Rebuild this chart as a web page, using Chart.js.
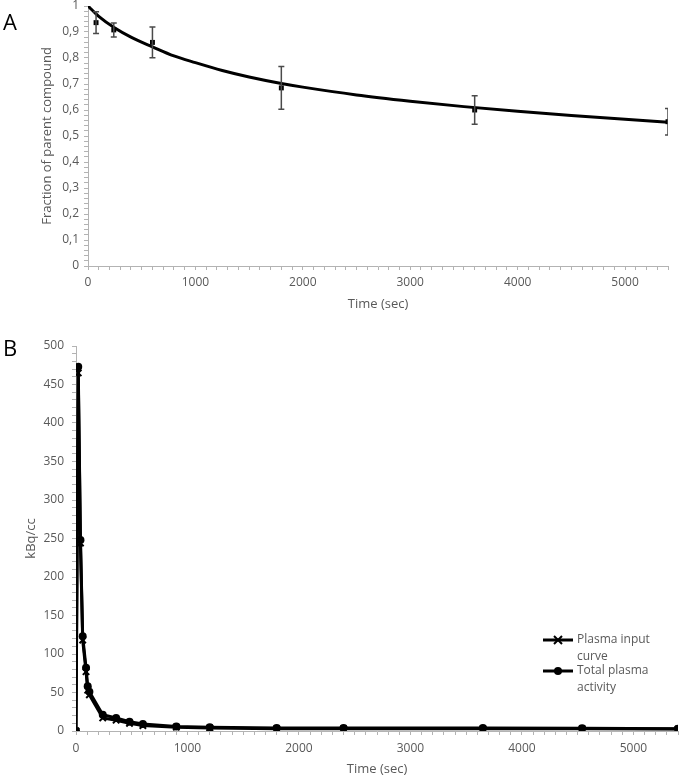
<!DOCTYPE html>
<html>
<head>
<meta charset="utf-8">
<script src="https://cdn.jsdelivr.net/npm/chart.js@4.4.1/dist/chart.umd.min.js"></script>
<style>
  body { margin: 0; background: #fff; }
  #wrap { position: relative; width: 685px; height: 780px; font-family: "Open Sans", sans-serif; }
  .panel { position: absolute; left: 0; }
  .letter { position: absolute; left: 3px; font-size: 22px; line-height: 22px; color: #000; }
</style>
</head>
<body>
<div id="wrap">
  <div class="panel" style="top:0"><canvas id="chartA" width="685" height="320"></canvas></div>
  <div class="panel" style="top:325px"><canvas id="chartB" width="685" height="455"></canvas></div>
  <div class="letter" style="top:10px">A</div>
  <div class="letter" style="top:336px">B</div>
</div>
<script>
// --- panel A: parent fraction ---
const fractionTimes = [75, 240, 600, 1800, 3600, 5400];
const fractionMean = [0.936, 0.908, 0.86, 0.685, 0.60, 0.555];
const fractionSd = [0.042, 0.027, 0.059, 0.082, 0.055, 0.051];

const fitTimes = [0, 100, 250, 400, 600, 800, 1000, 1250, 1500, 1800, 2000, 2500, 3000, 3500, 4000, 4500, 5000, 5400];
const fitFraction = [1.0, 0.96, 0.915, 0.88, 0.843, 0.808, 0.782, 0.752, 0.727, 0.702, 0.688, 0.658, 0.634, 0.613, 0.595, 0.579, 0.564, 0.553];

// --- panel B: plasma curves ---
const plasmaTimes = [0, 20, 40, 60, 90, 105, 120, 240, 360, 480, 600, 900, 1200, 1800, 2400, 3650, 4540, 5400];
const totalActivity = [0, 473, 248, 123, 82, 58, 51, 21, 17, 12, 9, 6, 5, 4, 4, 4, 3.5, 3];
const inputCurve = [0, 465, 244, 118, 77, 53, 47, 17, 14, 10, 7, 5, 4, 3, 3, 3, 3, 2.5];

const legendLabels = [['Plasma input', 'curve'], ['Total plasma', 'activity']];

const GREY = '#b3b3b3';
const TEXT = '#595959';
const FONT = '"Open Sans", sans-serif';

const toPoints = (xs, ys) => xs.map((x, i) => ({ x, y: ys[i] }));

// major + minor tick list, labels only on majors
const stepTicks = (count, step) => scale => {
  const t = [];
  for (let i = 0; i <= count; i++) t.push({ value: +(i * step).toFixed(4) });
  scale.ticks = t;
};

const axisBase = {
  grid: { drawOnChartArea: false, drawTicks: true, tickLength: 4, color: GREY, tickColor: GREY },
  border: { color: GREY, width: 1 },
};

const errorBars = {
  id: 'errorBars',
  afterDatasetsDraw(chart) {
    const { ctx, chartArea, scales: { x, y } } = chart;
    ctx.save();
    ctx.beginPath();
    ctx.rect(chartArea.left, chartArea.top - 10, chartArea.right - chartArea.left, chartArea.bottom - chartArea.top + 10);
    ctx.clip();
    ctx.strokeStyle = '#4a4a4a';
    ctx.lineWidth = 1.5;
    fractionTimes.forEach((t, i) => {
      const px = x.getPixelForValue(t);
      const hi = y.getPixelForValue(fractionMean[i] + fractionSd[i]);
      const lo = y.getPixelForValue(fractionMean[i] - fractionSd[i]);
      ctx.beginPath();
      ctx.moveTo(px, hi); ctx.lineTo(px, lo);
      ctx.moveTo(px - 3, hi); ctx.lineTo(px + 3, hi);
      ctx.moveTo(px - 3, lo); ctx.lineTo(px + 3, lo);
      ctx.stroke();
    });
    ctx.restore();
  }
};

new Chart(document.getElementById('chartA'), {
  type: 'scatter',
  data: {
    datasets: [
      {
        data: toPoints(fitTimes, fitFraction),
        showLine: true,
        borderColor: '#000',
        borderWidth: 3,
        pointRadius: 0,
        cubicInterpolationMode: 'monotone',
      },
      {
        data: toPoints(fractionTimes, fractionMean),
        pointStyle: 'rect',
        pointRadius: 3.5,
        backgroundColor: '#000',
        borderColor: '#000',
        borderWidth: 0,
        showLine: false,
      }
    ]
  },
  plugins: [errorBars],
  options: {
    responsive: false,
    animation: false,
    layout: { padding: { top: 6, right: 17, left: 0, bottom: 0 } },
    plugins: { legend: { display: false }, tooltip: { enabled: false } },
    scales: {
      x: {
        ...axisBase,
        type: 'linear', min: 0, max: 5400,
        afterBuildTicks: stepTicks(54, 100),
        afterFit: s => { s.height = 54; s.paddingLeft = 0; s.paddingRight = 0; },
        ticks: {
          autoSkip: false, maxRotation: 0, padding: 5, color: TEXT, font: { family: FONT, size: 12 },
          callback: v => (v % 1000 === 0 ? v : '')
        },
        title: { display: true, text: 'Time (sec)', color: TEXT, font: { family: FONT, size: 13 }, padding: { top: 0, bottom: 8 } }
      },
      y: {
        ...axisBase,
        min: 0, max: 1,
        afterBuildTicks: stepTicks(50, 0.02),
        afterFit: s => { s.width = 88; s.paddingTop = 0; s.paddingBottom = 0; },
        ticks: {
          autoSkip: false, padding: 5, color: TEXT, font: { family: FONT, size: 12 },
          callback: (v, i) => (i % 5 === 0 ? (v === 0 || v === 1 ? String(v) : v.toFixed(1).replace('.', ',')) : '')
        },
        title: { display: true, text: 'Fraction of parent compound', color: TEXT, font: { family: FONT, size: 13 }, padding: { top: 39, bottom: 0 } }
      }
    }
  }
});

const markerLegend = {
  id: 'markerLegend',
  afterDraw(chart) {
    const { ctx, chartArea } = chart;
    const x0 = chartArea.right - 135;
    const rows = [chartArea.bottom - 91, chartArea.bottom - 60];
    ctx.save();
    chart.data.datasets.forEach((ds, i) => {
      const y = rows[i];
      ctx.strokeStyle = '#000';
      ctx.lineWidth = 3;
      ctx.beginPath(); ctx.moveTo(x0, y); ctx.lineTo(x0 + 30, y); ctx.stroke();
      const cx = x0 + 15;
      if (ds.pointStyle === 'crossRot') {
        ctx.lineWidth = 2;
        ctx.beginPath();
        ctx.moveTo(cx - 4, y - 4); ctx.lineTo(cx + 4, y + 4);
        ctx.moveTo(cx - 4, y + 4); ctx.lineTo(cx + 4, y - 4);
        ctx.stroke();
      } else {
        ctx.fillStyle = '#000';
        ctx.beginPath(); ctx.arc(cx, y, 4, 0, Math.PI * 2); ctx.fill();
      }
      ctx.fillStyle = TEXT;
      ctx.font = '12px ' + FONT;
      ctx.textBaseline = 'middle';
      legendLabels[i].forEach((line, k) => ctx.fillText(line, x0 + 34, y + k * 16.5));
    });
    ctx.restore();
  }
};

new Chart(document.getElementById('chartB'), {
  type: 'scatter',
  data: {
    datasets: [
      {
        label: 'Plasma input curve',
        data: toPoints(plasmaTimes, inputCurve),
        showLine: true,
        borderColor: '#000',
        backgroundColor: '#000',
        borderWidth: 3,
        pointStyle: 'crossRot',
        pointRadius: 4.5,
        pointBorderWidth: 2,
      },
      {
        label: 'Total plasma activity',
        data: toPoints(plasmaTimes, totalActivity),
        showLine: true,
        borderColor: '#000',
        backgroundColor: '#000',
        borderWidth: 3,
        pointStyle: 'circle',
        pointRadius: 4,
        pointBorderWidth: 0,
      }
    ]
  },
  plugins: [markerLegend],
  options: {
    responsive: false,
    animation: false,
    layout: { padding: { top: 21, right: 7, left: 0, bottom: 0 } },
    plugins: { legend: { display: false }, tooltip: { enabled: false } },
    scales: {
      x: {
        ...axisBase,
        type: 'linear', min: 0, max: 5400,
        afterBuildTicks: stepTicks(54, 100),
        afterFit: s => { s.height = 49; },
        ticks: {
          autoSkip: false, maxRotation: 0, padding: 6, color: TEXT, font: { family: FONT, size: 12 },
          callback: v => (v % 1000 === 0 ? v : '')
        },
        title: { display: true, text: 'Time (sec)', color: TEXT, font: { family: FONT, size: 13 }, padding: { top: 0, bottom: 3 } }
      },
      y: {
        ...axisBase,
        min: 0, max: 500,
        afterBuildTicks: stepTicks(50, 10),
        afterFit: s => { s.width = 76; },
        ticks: {
          autoSkip: false, padding: 8, color: TEXT, font: { family: FONT, size: 12 },
          callback: v => (v % 50 === 0 ? v : '')
        },
        title: { display: true, text: 'kBq/cc', color: TEXT, font: { family: FONT, size: 13 }, padding: { top: 23, bottom: 0 } }
      }
    }
  }
});
</script>
</body>
</html>
